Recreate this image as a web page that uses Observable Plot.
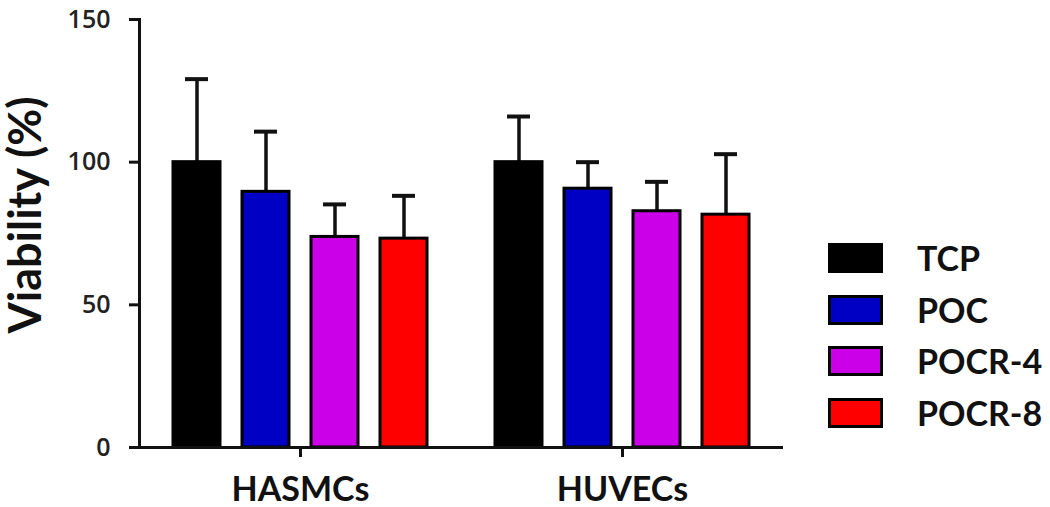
<!DOCTYPE html>
<html>
<head>
<meta charset="utf-8">
<script src="https://cdn.jsdelivr.net/npm/d3@7"></script>
<script src="https://cdn.jsdelivr.net/npm/@observablehq/plot@0.6"></script>
<style>
  html, body { margin: 0; padding: 0; background: #fff; }
  #wrap { position: relative; width: 1050px; height: 507px; overflow: hidden; font-family: Lato, "Open Sans", sans-serif; }
  #ytitle { position: absolute; left: 24px; top: 215px; writing-mode: vertical-rl; transform: translate(-50%, -50%) rotate(180deg); white-space: nowrap; font: bold 45px Lato, sans-serif; line-height: 0.8; color: #111; }
  #legend { position: absolute; left: 828px; top: 243px; }
  .row { display: flex; align-items: center; height: 30px; margin-bottom: 21.7px; }
  .sw { width: 55px; height: 30px; box-sizing: border-box; border: 3px solid #000; }
  .lab { margin-left: 34px; font: bold 34px Lato, sans-serif; line-height: 30px; color: #111; }
  svg { overflow: visible; }
</style>
</head>
<body>
<div id="wrap"></div>
<script>
// ---- data ----
const groups = ["HASMCs", "HUVECs"];
const series = ["TCP", "POC", "POCR-4", "POCR-8"];
const colors = ["#000000", "#0000C4", "#CC00E8", "#FF0000"];
const hasmcsMean = [100, 89.6, 73.8, 73.2];
const hasmcsSD   = [29.1, 21.1, 11.4, 15.0];
const huvecsMean = [100, 90.7, 82.8, 81.6];
const huvecsSD   = [16.0, 9.3, 10.3, 21.2];
const yTicks = [0, 50, 100, 150];
const yTitle = "Viability (%)";

const means = {HASMCs: hasmcsMean, HUVECs: huvecsMean};
const sds = {HASMCs: hasmcsSD, HUVECs: huvecsSD};
const data = groups.flatMap(g => series.map((s, i) => ({group: g, series: s, mean: means[g][i], upper: means[g][i] + sds[g][i]})));

const chart = Plot.plot({
  width: 1050,
  height: 507,
  marginLeft: 138,
  marginRight: 267,
  marginTop: 19,
  marginBottom: 60,
  style: {fontFamily: "Lato, sans-serif", background: "transparent", color: "#111"},
  fx: {domain: groups, padding: 0, label: null},
  x: {domain: series, paddingInner: 0.32, paddingOuter: 0.48, axis: null},
  y: {domain: [0, 150], label: null},
  color: {domain: series, range: colors},
  marks: [
    Plot.ruleX(data, {fx: "group", x: "series", y1: "mean", y2: "upper", stroke: "#111", strokeWidth: 3.5}),
    Plot.barY(data, {fx: "group", x: "series", y: "mean", fill: "series", stroke: "#000", strokeWidth: 3}),
    Plot.tickY(data, {fx: "group", x: "series", y: "upper", stroke: "#111", strokeWidth: 4, insetLeft: 12, insetRight: 12}),
    Plot.frame({anchor: "left", facetAnchor: "left", stroke: "#111", strokeWidth: 3}),
    Plot.ruleY([0], {stroke: "#111", strokeWidth: 3}),
    Plot.axisY({ticks: yTicks, tickSize: 10, tickPadding: 19, fontSize: 25, fontFamily: "Open Sans, sans-serif", fontWeight: 600, fill: "#222", strokeWidth: 3, label: null}),
    Plot.axisFx({anchor: "bottom", tickSize: 10, tickPadding: 19, fontSize: 34, fontWeight: "bold", strokeWidth: 3, label: null})
  ]
});

const wrap = document.getElementById("wrap");
wrap.appendChild(chart);

const t = document.createElement("div");
t.id = "ytitle";
t.textContent = yTitle;
wrap.appendChild(t);

const legend = document.createElement("div");
legend.id = "legend";
series.forEach((s, i) => {
  const row = document.createElement("div");
  row.className = "row";
  const sw = document.createElement("div");
  sw.className = "sw";
  sw.style.background = colors[i];
  const lab = document.createElement("span");
  lab.className = "lab";
  lab.textContent = s;
  row.appendChild(sw);
  row.appendChild(lab);
  legend.appendChild(row);
});
wrap.appendChild(legend);
</script>
</body>
</html>
